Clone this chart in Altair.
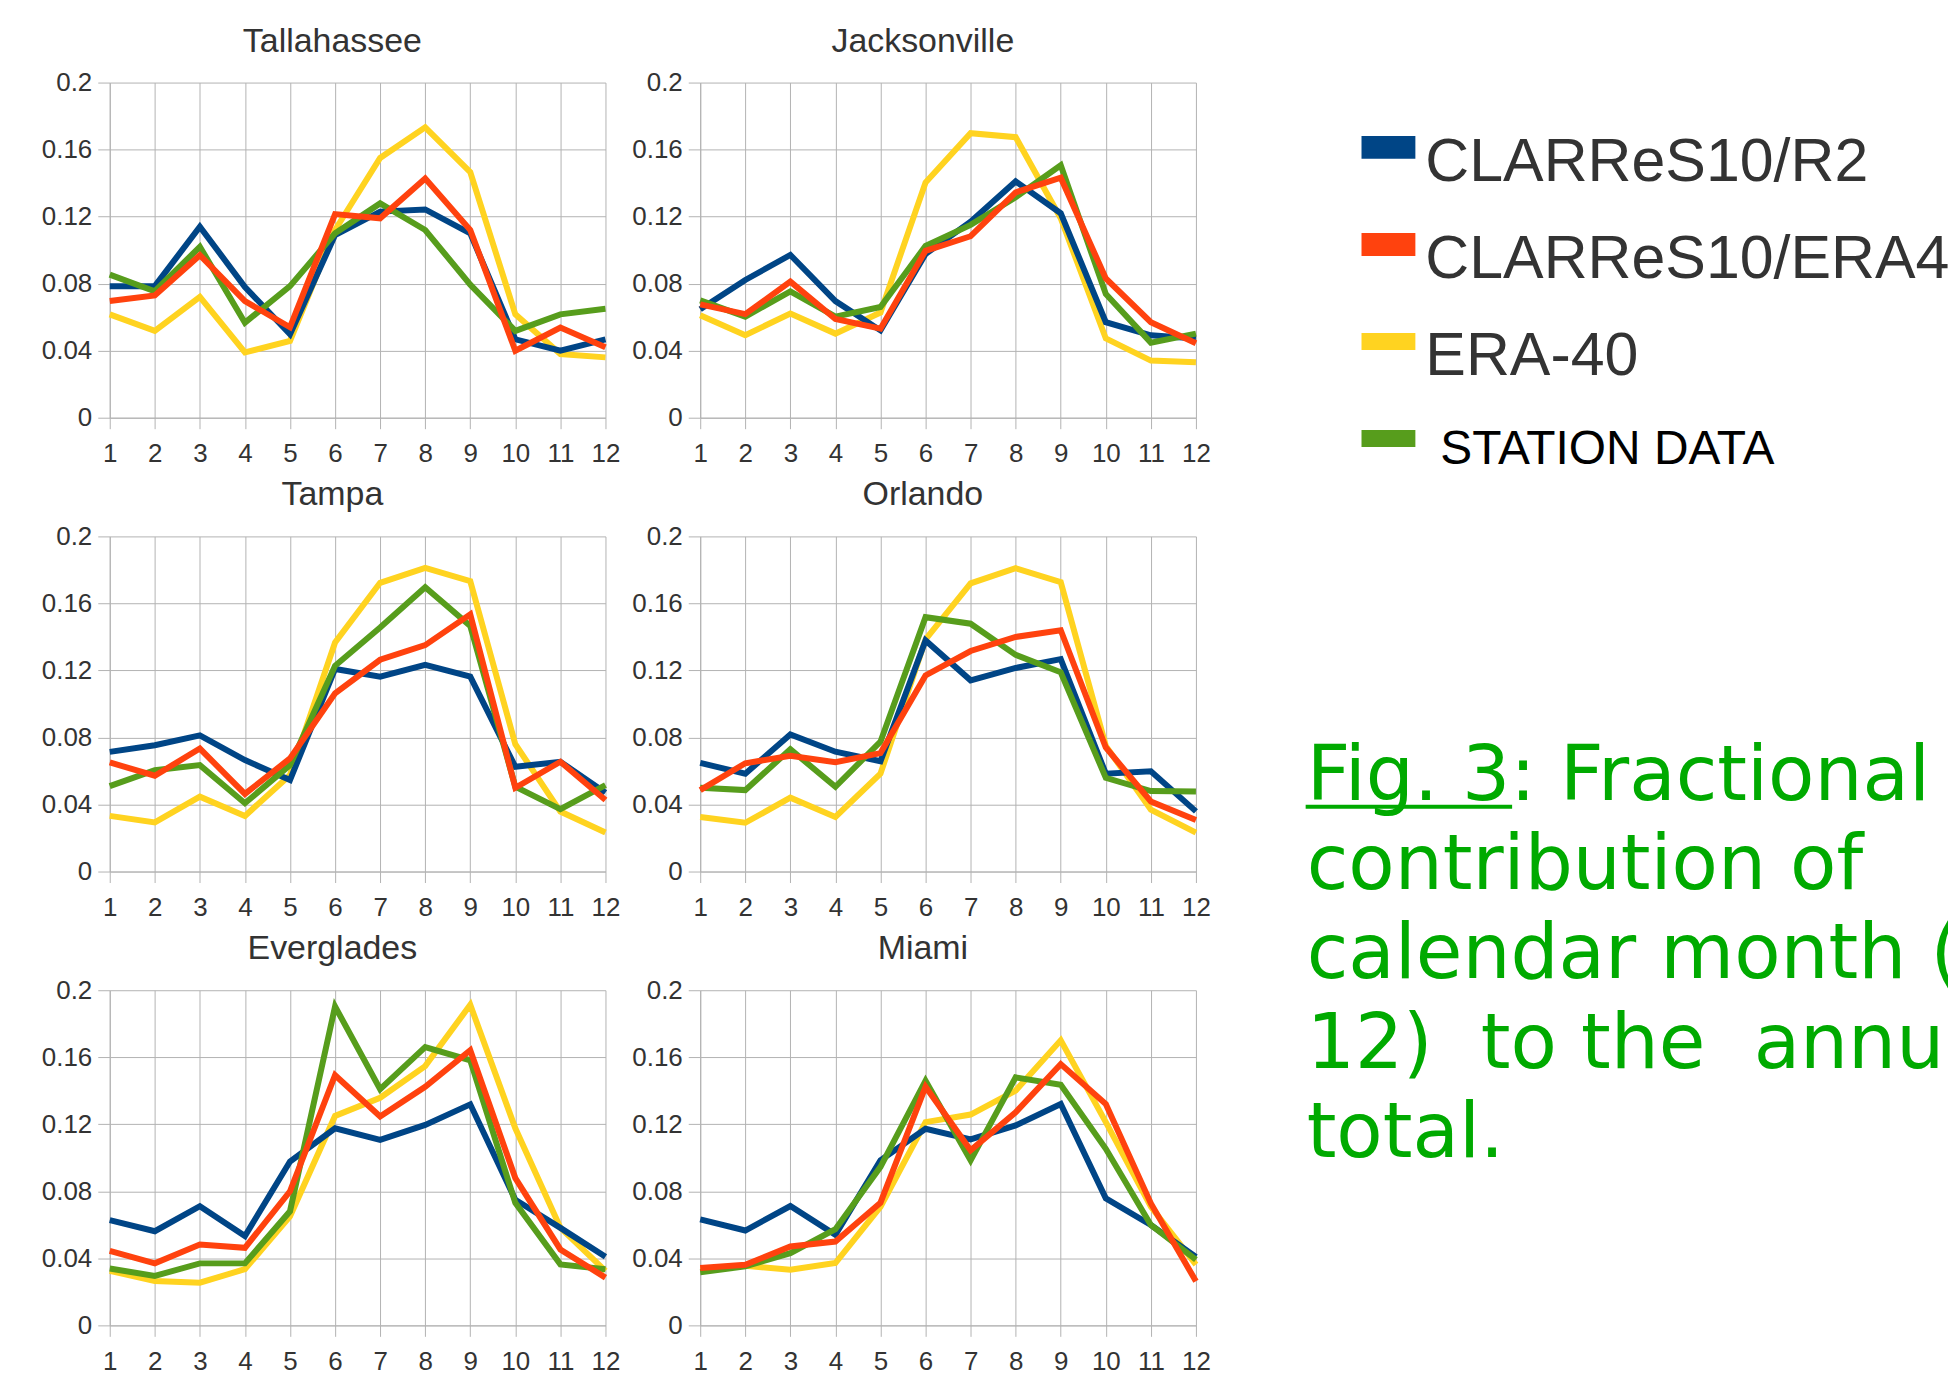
import altair as alt
import pandas as pd

months = list(range(1, 13))
y_ticks = [0, 0.04, 0.08, 0.12, 0.16, 0.2]
series_names = ["CLARReS10/R2", "CLARReS10/ERA40", "ERA-40", "STATION DATA"]
series_colors = ["#004586", "#ff420e", "#ffd320", "#579d1c"]
draw_order = ["ERA-40", "CLARReS10/R2", "STATION DATA", "CLARReS10/ERA40"]
stations = ["Tallahassee", "Jacksonville", "Tampa", "Orlando", "Everglades", "Miami"]

# values per station: R2, ERA40-driven run, ERA-40, station data
tal_r2 = [0.0785, 0.0785, 0.114, 0.078, 0.0498, 0.109, 0.123, 0.1243, 0.110, 0.0468, 0.040, 0.0468]
tal_era40run = [0.0696, 0.073, 0.097, 0.0696, 0.054, 0.1215, 0.119, 0.1427, 0.112, 0.040, 0.0538, 0.042]
tal_era40 = [0.0617, 0.0518, 0.0721, 0.039, 0.0458, 0.112, 0.155, 0.1733, 0.1466, 0.0617, 0.038, 0.036]
tal_station = [0.0854, 0.0755, 0.102, 0.0567, 0.0785, 0.110, 0.1279, 0.112, 0.0794, 0.0518, 0.0617, 0.065]

jac_r2 = [0.0647, 0.0822, 0.0971, 0.0696, 0.0521, 0.0977, 0.117, 0.141, 0.122, 0.057, 0.0492, 0.0473]
jac_era40run = [0.0676, 0.0618, 0.0812, 0.0589, 0.0531, 0.0996, 0.1083, 0.1345, 0.1432, 0.0831, 0.057, 0.0444]
jac_era40 = [0.0612, 0.0492, 0.0622, 0.0502, 0.0628, 0.1403, 0.1698, 0.1674, 0.119, 0.0473, 0.0341, 0.0331]
jac_station = [0.070, 0.0603, 0.0754, 0.0603, 0.0661, 0.1025, 0.1151, 0.1316, 0.1506, 0.0738, 0.0448, 0.0502]

tam_r2 = [0.0714, 0.0754, 0.0813, 0.0665, 0.0546, 0.1209, 0.1163, 0.1234, 0.1163, 0.0625, 0.0655, 0.0471]
tam_era40run = [0.0651, 0.0572, 0.0734, 0.0463, 0.0675, 0.1064, 0.1264, 0.1351, 0.1535, 0.050, 0.0655, 0.0427]
tam_era40 = [0.0332, 0.0293, 0.0447, 0.0332, 0.0576, 0.1367, 0.1723, 0.1812, 0.1733, 0.076, 0.0358, 0.0233]
tam_station = [0.051, 0.0605, 0.0635, 0.0408, 0.0635, 0.1228, 0.1456, 0.1697, 0.1466, 0.0506, 0.0372, 0.0516]

orl_r2 = [0.0648, 0.0584, 0.0818, 0.0715, 0.0658, 0.1379, 0.1141, 0.1215, 0.1268, 0.0584, 0.0598, 0.0359]
orl_era40run = [0.0486, 0.0646, 0.0691, 0.0652, 0.0707, 0.117, 0.1316, 0.140, 0.144, 0.074, 0.0418, 0.0307]
orl_era40 = [0.0326, 0.0291, 0.0441, 0.0326, 0.0584, 0.1385, 0.172, 0.181, 0.1727, 0.075, 0.0369, 0.0232]
orl_station = [0.050, 0.0486, 0.073, 0.0506, 0.0775, 0.1518, 0.1479, 0.1293, 0.1189, 0.0559, 0.048, 0.0477]

eve_r2 = [0.0628, 0.0562, 0.0711, 0.0533, 0.0978, 0.1176, 0.1107, 0.1196, 0.1319, 0.075, 0.0582, 0.041]
eve_era40run = [0.0444, 0.037, 0.0483, 0.0463, 0.080, 0.1493, 0.1246, 0.1424, 0.1642, 0.0879, 0.0453, 0.0285]
eve_era40 = [0.0325, 0.0265, 0.0255, 0.0335, 0.0651, 0.125, 0.1358, 0.1547, 0.1913, 0.1176, 0.0582, 0.0325]
eve_station = [0.0339, 0.0295, 0.037, 0.037, 0.0681, 0.1903, 0.141, 0.1661, 0.1582, 0.0731, 0.0364, 0.0335]

mia_r2 = [0.0633, 0.0566, 0.0712, 0.054, 0.0985, 0.1173, 0.111, 0.1193, 0.1321, 0.0758, 0.0599, 0.0408]
mia_era40run = [0.0342, 0.0362, 0.0471, 0.050, 0.0732, 0.1424, 0.1045, 0.1272, 0.1559, 0.1321, 0.0728, 0.0263]
mia_era40 = [0.0336, 0.0356, 0.0332, 0.0372, 0.0708, 0.1213, 0.1258, 0.1401, 0.1701, 0.1213, 0.0708, 0.0362]
mia_station = [0.0317, 0.0352, 0.0431, 0.0574, 0.0946, 0.146, 0.0985, 0.148, 0.1436, 0.1054, 0.0599, 0.0392]

station_series = [
    [tal_r2, tal_era40run, tal_era40, tal_station],
    [jac_r2, jac_era40run, jac_era40, jac_station],
    [tam_r2, tam_era40run, tam_era40, tam_station],
    [orl_r2, orl_era40run, orl_era40, orl_station],
    [eve_r2, eve_era40run, eve_era40, eve_station],
    [mia_r2, mia_era40run, mia_era40, mia_station],
]

caption_lines = ["Fig. 3: Fractional", "contribution of", "calendar month (1-",
                 "12)\u00a0 to the\u00a0 annual", "total."]

SANS = "Liberation Sans, Arial, sans-serif"
GRID = "#b3b3b3"
TEXT = "#333333"
PW, PH = 497, 336

color_of = dict(zip(series_names, series_colors))


def panel(name, series_values):
    rows = []
    for s, vals in zip(series_names, series_values):
        for m, v in zip(months, vals):
            rows.append({"month": m, "value": v, "series": s})
    df = pd.DataFrame(rows)
    x = alt.X("month:Q",
              scale=alt.Scale(domain=[1, 12], nice=False, zero=False),
              axis=alt.Axis(values=months, title=None, format="d", labelFont=SANS,
                            labelFontSize=26, labelColor=TEXT, tickSize=11, tickColor=GRID,
                            domainColor=GRID, gridColor=GRID, labelPadding=12,
                            labelFlush=False, labelOverlap=False))
    y = alt.Y("value:Q",
              scale=alt.Scale(domain=[0, 0.2], nice=False, zero=True),
              axis=alt.Axis(values=y_ticks, title=None, format=".2~f", labelFont=SANS,
                            labelFontSize=26, labelColor=TEXT, tickSize=12, tickColor=GRID,
                            domainColor=GRID, gridColor=GRID, labelPadding=6,
                            labelFlush=False, labelOverlap=False))
    base = alt.Chart(df)
    layers = []
    for s in draw_order:
        layers.append(
            base.transform_filter(alt.datum.series == s)
            .mark_line(color=color_of[s], strokeWidth=6, strokeJoin="miter", strokeMiterLimit=6)
            .encode(x=x, y=y)
        )
    return alt.layer(*layers).properties(
        width=PW, height=PH,
        title=alt.Title(name, font=SANS, fontSize=34, fontWeight="normal", color=TEXT,
                        anchor="middle", frame="bounds", offset=11),
    )


panels = [panel(n, sv) for n, sv in zip(stations, station_series)]
grid = alt.concat(*panels, columns=2, spacing={"row": 12, "column": 8})

# ---- side: legend + caption ----
SW, SH = 736, 1270
legend_df = pd.DataFrame({"series": series_names, "color": series_colors,
                          "idx": list(range(len(series_names)))})
side_base = alt.Chart(legend_df).transform_calculate(
    ypx="65 + datum.idx * 97.3",
    half="datum.idx < 2 ? 11.5 : 8.5").transform_calculate(
    ytop="datum.ypx - datum.half", ybot="datum.ypx + datum.half")

swatches = side_base.mark_rect().encode(
    x=alt.value(148), x2=alt.value(202),
    y=alt.Y("ytop:Q", scale=None), y2=alt.Y2("ybot:Q"),
    color=alt.Color("color:N", scale=None),
)
legend_text = side_base.transform_filter(alt.datum.idx < 3).mark_text(
    align="left", baseline="alphabetic", font=SANS, fontSize=61, color=TEXT, dy=34, clip=True
).encode(x=alt.value(212), y=alt.Y("ypx:Q", scale=None), text="series:N")
legend_text2 = side_base.transform_filter(alt.datum.idx == 3).mark_text(
    align="left", baseline="alphabetic", font=SANS, fontSize=48, color="black", dy=26, clip=True
).encode(x=alt.value(227), y=alt.Y("ypx:Q", scale=None), text="series:N")

cap_df = pd.DataFrame({"line": caption_lines, "i": list(range(len(caption_lines)))})
caption = alt.Chart(cap_df).transform_calculate(yb="719 + datum.i * 89.5").mark_text(
    align="left", baseline="alphabetic", font="DejaVu Sans", fontSize=76,
    color="#00aa00", clip=True
).encode(x=alt.value(93), y=alt.Y("yb:Q", scale=None), text="line:N")
underline = alt.Chart(cap_df.head(1)).mark_rule(color="#00aa00", strokeWidth=4).encode(
    x=alt.value(92), x2=alt.value(299), y=alt.value(726))

side = alt.layer(swatches, legend_text, legend_text2, caption, underline).properties(
    width=SW, height=SH)

chart = alt.hconcat(grid, side, spacing=0).properties(
    padding={"left": 33, "top": 15, "right": 0, "bottom": 0}
).configure_view(stroke=None).configure_axis(grid=True)

chart.save("out.html", embed_options={"renderer": "svg", "actions": False})
